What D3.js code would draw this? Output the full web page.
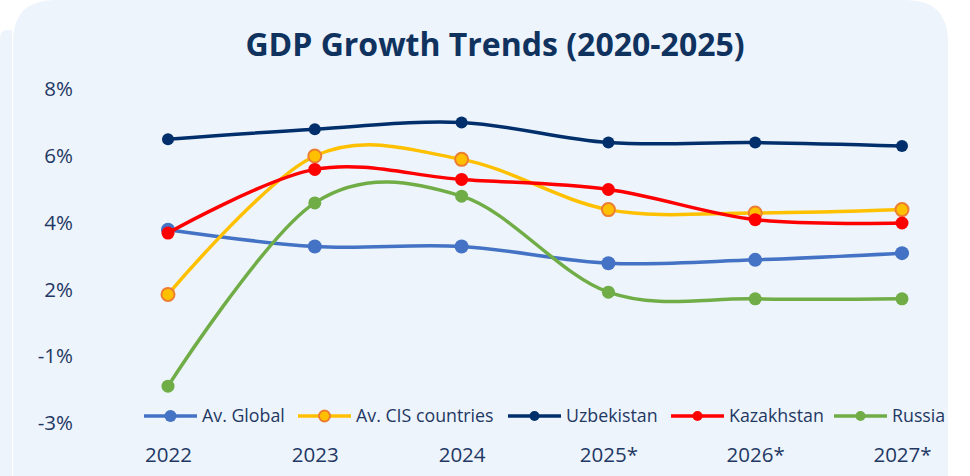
<!DOCTYPE html>
<html>
<head>
<meta charset="utf-8">
<script src="https://cdn.jsdelivr.net/npm/d3@7"></script>
<style>
  html, body { margin: 0; padding: 0; background: #ffffff; }
  svg { display: block; }
  text { font-family: "Open Sans", Lato, sans-serif; }
</style>
</head>
<body>
<svg id="chart" width="970" height="476"></svg>
<script>
// Years on the x axis (asterisk = forecast)
const years = ["2022", "2023", "2024", "2025*", "2026*", "2027*"];

// Real GDP growth, % per year
const avGlobal   = [3.8, 3.3, 3.3, 2.8, 2.9, 3.1];
const avCIS      = [1.8, 6.0, 5.9, 4.4, 4.3, 4.4];
const uzbekistan = [6.5, 6.8, 7.0, 6.4, 6.4, 6.3];
const kazakhstan = [3.7, 5.6, 5.3, 5.0, 4.1, 4.0];
const russia     = [-1.9, 4.6, 4.8, 1.9, 1.6, 1.6];

// Y axis ticks as labelled on the value axis
const yTicks = [8, 6, 4, 2, -1, -3];

const seriesNames = ["Av. Global", "Av. CIS countries", "Uzbekistan", "Kazakhstan", "Russia"];
const seriesValues = [avGlobal, avCIS, uzbekistan, kazakhstan, russia];

const styles = [
  { color: "#4472C4", fill: "#4472C4", stroke: "#4472C4", r: 7, sw: 0, lr: 6 },
  { color: "#FFC000", fill: "#FFC000", stroke: "#ED7D31", r: 6.5, sw: 2, lr: 5.5 },
  { color: "#002F6C", fill: "#002F6C", stroke: "#002F6C", r: 6, sw: 0, lr: 5 },
  { color: "#FF0000", fill: "#FF0000", stroke: "#FF0000", r: 6.5, sw: 0, lr: 5 },
  { color: "#70AD47", fill: "#70AD47", stroke: "#70AD47", r: 6.5, sw: 0, lr: 5 }
];

const navy = "#1F3864";
const svg = d3.select("#chart");

// Card background
svg.append("path")
  .attr("d", "M0,40 Q0,30 6,30 L12,30 L12,476 L0,476 Z")
  .attr("fill", "#EEF4FB");
svg.append("path")
  .attr("d", () => {
    const x0 = 13, x1 = 948, y0 = 0, y1 = 476, r = 42;
    return `M${x0},${y1} L${x0},${y0 + r} Q${x0},${y0} ${x0 + r},${y0} L${x1 - r},${y0} Q${x1},${y0} ${x1},${y0 + r} L${x1},${y1} Z`;
  })
  .attr("fill", "#EDF4FB");

// Title
svg.append("text")
  .attr("x", 495).attr("y", 56)
  .attr("text-anchor", "middle")
  .attr("font-size", 32).attr("font-weight", "bold")
  .attr("fill", "#10325F")
  .text("GDP Growth Trends (2020-2025)");

// Scales
const x = d3.scalePoint().domain(years).range([168, 902]);
const y = d3.scaleLinear().domain([-3, -1, 2, 8]).range([423, 356, 290, 89]);

// Y axis labels
const yAxis = d3.axisLeft(y).tickValues(yTicks).tickSize(0).tickPadding(0)
  .tickFormat(d => d + "%");
const gy = svg.append("g").attr("transform", "translate(73,0)").call(yAxis);
gy.select(".domain").remove();
gy.selectAll("text")
  .attr("font-size", 20.5).attr("fill", navy)
  .attr("font-family", "'Open Sans', Lato, sans-serif");

// X axis labels
const xAxis = d3.axisBottom(x).tickSize(0).tickPadding(0);
const gx = svg.append("g").attr("transform", "translate(0,0)").call(xAxis);
gx.select(".domain").remove();
gx.selectAll("text")
  .attr("y", 462).attr("dy", null)
  .attr("font-size", 20.5).attr("fill", navy)
  .attr("font-family", "'Open Sans', Lato, sans-serif");

// Smoothed lines with markers
const line = d3.line()
  .x((d, i) => x(years[i]))
  .y(d => y(d))
  .curve(d3.curveCatmullRom.alpha(0));

seriesValues.forEach((vals, si) => {
  const st = styles[si];
  const g = svg.append("g");
  g.append("path")
    .datum(vals)
    .attr("d", line)
    .attr("fill", "none")
    .attr("stroke", st.color)
    .attr("stroke-width", 3.5)
    .attr("stroke-linejoin", "round");
  g.selectAll("circle")
    .data(vals)
    .join("circle")
    .attr("cx", (d, i) => x(years[i]))
    .attr("cy", d => y(d))
    .attr("r", st.r)
    .attr("fill", st.fill)
    .attr("stroke", st.stroke)
    .attr("stroke-width", st.sw);
});

// Legend
const legendX = [144, 298, 508, 671, 834];
const legend = svg.append("g").attr("transform", "translate(0,416)");
seriesNames.forEach((name, si) => {
  const st = styles[si];
  const gx0 = legendX[si];
  const item = legend.append("g").attr("transform", `translate(${gx0},0)`);
  item.append("line")
    .attr("x1", 0).attr("x2", 53).attr("y1", 0).attr("y2", 0)
    .attr("stroke", st.color).attr("stroke-width", 3.5);
  item.append("circle")
    .attr("cx", 26.5).attr("cy", 0).attr("r", st.lr)
    .attr("fill", st.fill).attr("stroke", st.stroke).attr("stroke-width", st.sw);
  item.append("text")
    .attr("x", 58).attr("y", 6)
    .attr("font-size", 17.8).attr("fill", navy)
    .text(name);
});
</script>
</body>
</html>
